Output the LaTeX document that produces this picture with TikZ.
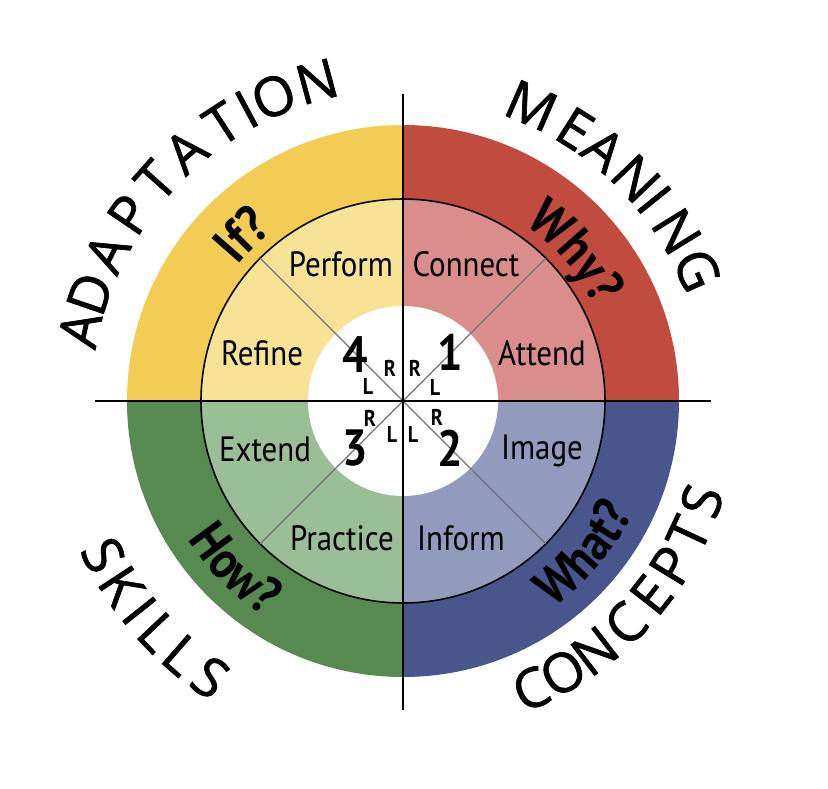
\documentclass[tikz,border=0pt]{standalone}
\usepackage{fontspec}
\newfontfamily\ringfont[FakeStretch=0.88]{PT Sans}
\newfontfamily\capsfont[FakeBold=1.2]{Open Sans}
\usetikzlibrary{decorations.text}
\definecolor{ydark}{HTML}{F2CC54}
\definecolor{ylight}{HTML}{F7E296}
\definecolor{rdark}{HTML}{C04C40}
\definecolor{rlight}{HTML}{D98E8C}
\definecolor{bdark}{HTML}{48568C}
\definecolor{blight}{HTML}{929BBE}
\definecolor{gdark}{HTML}{568A50}
\definecolor{glight}{HTML}{9ABE96}
\tikzset{
    phase/.style={
    anchor=base,inner sep=0pt,font=\ringfont\fontsize{20pt}{20pt}\selectfont
    },
    num/.style={
    inner sep=0pt,font=\ringfont\bfseries\fontsize{29pt}{29pt}\selectfont
    },
    side/.style={
    inner sep=0pt,font=\ringfont\bfseries\fontsize{13pt}{13pt}\selectfont
    },
    outer/.style={
    inner sep=0pt,font=\capsfont\fontsize{31pt}{31pt}\selectfont
    },
    axis/.style={
    draw=black,line width=1.2pt
    },
    rim/.style={
    draw=black,line width=0.9pt
    },
    diag/.style={
    draw=black!55,line width=0.8pt
    },
    quest/.style={
    decorate,decoration={text along path,text align=center,
    text={|\ringfont\bfseries\fontsize{30pt}{30pt}\selectfont|#1}}
    },
}

\begin{document}
\begin{tikzpicture}[x=0.02cm,y=0.02cm]
   \useasboundingbox (-403,-387) rectangle (425,401);
   \coordinate (c) at (0,0);
   %outer ring
   \fill[rdark] (c) -- (0:276) arc[start angle=0,end angle=90,radius=276] -- cycle;
   \fill[ydark] (c) -- (90:276) arc[start angle=90,end angle=180,radius=276] -- cycle;
   \fill[gdark] (c) -- (180:276) arc[start angle=180,end angle=270,radius=276] -- cycle;
   \fill[bdark] (c) -- (270:276) arc[start angle=270,end angle=360,radius=276] -- cycle;
   %middle ring
   \fill[rlight] (c) -- (0:202) arc[start angle=0,end angle=90,radius=202] -- cycle;
   \fill[ylight] (c) -- (90:202) arc[start angle=90,end angle=180,radius=202] -- cycle;
   \fill[glight] (c) -- (180:202) arc[start angle=180,end angle=270,radius=202] -- cycle;
   \fill[blight] (c) -- (270:202) arc[start angle=270,end angle=360,radius=202] -- cycle;
   \draw[rim] (c) circle[radius=202];
   %centre
   \fill[white] (c) circle[radius=95];
   \foreach \a in {45,135,225,315}
     \draw[diag] (c) -- (\a:202);
   %axes
   \coordinate (top) at (0,307);
   \coordinate (bottom) at (0,-309);
   \coordinate (left) at (-308,0);
   \coordinate (right) at (308,0);
   \draw[axis] (top) -- (bottom);
   \draw[axis] (left) -- (right);

   %phases
   \node[phase] (perform) at (-62,125) {Perform};
   \node[phase] (connect) at (63,125) {Connect};
   \node[phase] (refine) at (-141,36) {Refine};
   \node[phase] (attend) at (139,36) {Attend};
   \node[phase] (extend) at (-138,-60) {Extend};
   \node[phase] (image) at (139,-58) {Image};
   \node[phase] (practice) at (-61,-149) {Practice};
   \node[phase] (inform) at (58,-149) {Inform};

   %quadrant numbers
   \node[num] (n1) at (47,49) {1};
   \node[num] (n2) at (47,-47) {2};
   \node[num] (n3) at (-48,-47) {3};
   \node[num] (n4) at (-48,46) {4};
   \node[side] (r1) at (12,33) {R};
   \node[side] (l1) at (32,13) {L};
   \node[side] (r2) at (34,-16) {R};
   \node[side] (l2) at (10,-34) {L};
   \node[side] (r3) at (-33,-17) {R};
   \node[side] (l3) at (-11,-34) {L};
   \node[side] (r4) at (-13,33) {R};
   \node[side] (l4) at (-35,14) {L};

   %questions
   \path[quest={If?}] (155:214) arc[start angle=155,end angle=113,radius=214];
   \path[quest={Why?}] (62:214) arc[start angle=62,end angle=20,radius=214];
   \path[quest={How?}] (-157:256) arc[start angle=-157,end angle=-113,radius=256];
   \path[quest={What?}] (-62:256) arc[start angle=-62,end angle=-18,radius=256];

   %adaptation
   \foreach \a/\ch [count=\i] in {167.5/A,161.1/D,153.4/A,145.7/P,138.3/T,131.0/A,123.1/T,118.2/I,113.0/O,105.1/N}
     \node[outer,rotate=\a-90] (adapt\i) at (\a:331) {\ch};
   %meaning
   \foreach \a/\ch [count=\i] in {66.5/M,57.7/E,51.4/A,43.7/N,38.7/I,31.8/N,24.0/G}
     \node[outer,rotate=\a-90] (mean\i) at (\a:322) {\ch};
   %concepts
   \foreach \a/\ch [count=\i] in {-66/C,-59.5/O,-52.5/N,-45/C,-38/E,-31.5/P,-25/T,-18.5/S}
     \node[outer,rotate=\a+90] (conc\i) at (\a:315) {\ch};
   %skills
   \foreach \a/\ch [count=\i] in {-152.8/S,-146.7/K,-141.5/I,-136.7/L,-131.1/L,-124.9/S}
     \node[outer,rotate=\a+90] (skill\i) at (\a:337) {\ch};
\end{tikzpicture}
\end{document}
